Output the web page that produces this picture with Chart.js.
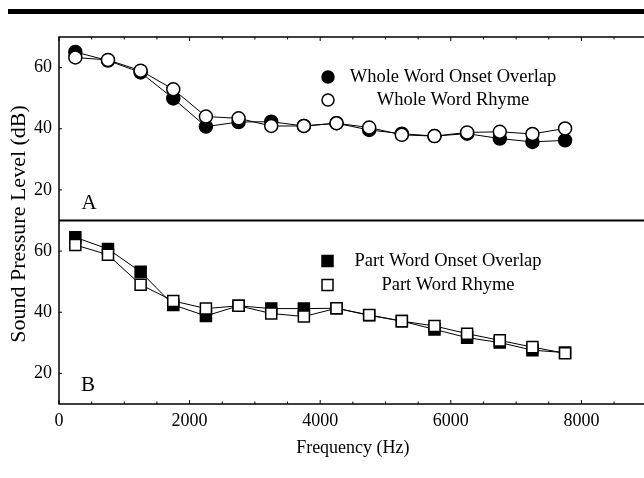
<!DOCTYPE html>
<html>
<head>
<meta charset="utf-8">
<script src="https://cdn.jsdelivr.net/npm/chart.js@4.4.1/dist/chart.umd.min.js"></script>
<style>
  html, body { margin: 0; padding: 0; background: #fff; overflow: hidden; }
  #wrap { position: relative; width: 644px; height: 478px; overflow: hidden; }
  #rule { position: absolute; left: 8px; top: 9px; width: 640px; height: 5px; background: #000; }
  #box { position: absolute; left: 0; top: 0; width: 656px; height: 478px; }
</style>
</head>
<body>
<div id="wrap">
  <div id="rule"></div>
  <div id="box"><canvas id="chart" width="656" height="478"></canvas></div>
</div>
<script>
// fréquences centrales des bandes (Hz)
const freqs = [250, 750, 1250, 1750, 2250, 2750, 3250, 3750, 4250, 4750, 5250, 5750, 6250, 6750, 7250, 7750];

// panneau A
const wholeOnset = [65.1, 62.3, 58.4, 49.9, 40.7, 42.2, 42.3, 40.9, 41.8, 39.6, 38.4, 37.6, 38.4, 36.8, 35.7, 36.2];
const wholeRhyme = [63.3, 62.5, 59.0, 52.9, 44.0, 43.4, 40.9, 40.9, 41.8, 40.4, 38.0, 37.6, 38.8, 39.0, 38.3, 40.1];

// panneau B
const partOnset = [64.5, 60.7, 53.2, 42.4, 38.8, 42.1, 41.2, 41.2, 41.3, 39.0, 37.1, 34.4, 31.7, 30.1, 27.6, 26.8];
const partRhyme = [62.0, 58.8, 49.0, 43.7, 41.2, 42.1, 39.6, 38.6, 41.3, 39.1, 37.1, 35.5, 33.0, 30.8, 28.6, 26.6];

const xTicks = [0, 2000, 4000, 6000, 8000];
const yTicks = [20, 40, 60];
const legendA = ['Whole Word Onset Overlap', 'Whole Word Rhyme'];
const legendB = ['Part Word Onset Overlap', 'Part Word Rhyme'];

const serif = '"Liberation Serif", "Times New Roman", serif';

function pts(arr) {
    return freqs.map((f, i) => ({ x: f, y: arr[i] }));
}

function serie(label, arr, axe, plein, style) {
    return {
        label: label,
        data: pts(arr),
        yAxisID: axe,
        borderColor: '#000',
        borderWidth: 1,
        pointStyle: style,
        pointRadius: style === 'rect' ? 7.8 : 6.5,
        pointBackgroundColor: plein ? '#000' : '#fff',
        pointBorderColor: '#000',
        pointBorderWidth: 1.5,
        order: plein ? 1 : 0,
        tension: 0
    };
}

function echelleY() {
    return {
        type: 'linear',
        min: 10,
        max: 70,
        position: 'left',
        stack: 'panneaux',
        stackWeight: 1,
        afterFit: s => { s.width = 59; },
        afterBuildTicks: s => { s.ticks = yTicks.map(v => ({ value: v })); },
        grid: { display: false, drawTicks: false },
        border: { display: false },
        ticks: { color: '#000', font: { family: serif, size: 18 }, padding: 7, callback: v => String(v) }
    };
}

// cadre, séparation et petites graduations vers l'intérieur
const cadre = {
    id: 'cadre',
    beforeDatasetsDraw(chart) {
        const { ctx, chartArea: a, scales } = chart;
        ctx.save();
        ctx.strokeStyle = '#000';
        ctx.lineWidth = 1.5;
        ctx.strokeRect(a.left, a.top, a.right - a.left, a.bottom - a.top);
        ctx.lineWidth = 2;
        ctx.beginPath();
        ctx.moveTo(a.left, scales.yA.bottom);
        ctx.lineTo(a.right, scales.yA.bottom);
        ctx.stroke();
        ctx.lineWidth = 1;
        ctx.beginPath();
        for (let f = 0; f <= 9000; f += 500) {
            const px = scales.x.getPixelForValue(f);
            const len = f % 2000 === 0 ? 4 : 2.5;
            ctx.moveTo(px, a.top);
            ctx.lineTo(px, a.top + len);
            ctx.moveTo(px, a.bottom);
            ctx.lineTo(px, a.bottom - len);
        }
        ['yA', 'yB'].forEach(id => {
            yTicks.forEach(v => {
                const py = scales[id].getPixelForValue(v);
                ctx.moveTo(a.left, py);
                ctx.lineTo(a.left + 3, py);
            });
        });
        ctx.stroke();
        ctx.restore();
    },
    afterDraw(chart) {
        const { ctx, chartArea: a } = chart;
        ctx.save();
        ctx.fillStyle = '#000';
        ctx.strokeStyle = '#000';
        ctx.textBaseline = 'middle';

        // titre de l'axe vertical
        ctx.save();
        ctx.font = '22px ' + serif;
        ctx.translate(19, 224);
        ctx.rotate(-Math.PI / 2);
        ctx.textAlign = 'center';
        ctx.fillText('Sound Pressure Level (dB)', 0, 0);
        ctx.restore();

        // légendes
        ctx.font = '18.5px ' + serif;
        ctx.textAlign = 'center';
        ctx.lineWidth = 1.5;
        const rangs = [
            { y: 77, txt: legendA[0], cx: 453, m: 'circle', plein: true },
            { y: 100, txt: legendA[1], cx: 453, m: 'circle', plein: false },
            { y: 261, txt: legendB[0], cx: 448, m: 'rect', plein: true },
            { y: 285, txt: legendB[1], cx: 448, m: 'rect', plein: false }
        ];
        rangs.forEach(r => {
            ctx.beginPath();
            if (r.m === 'circle') ctx.arc(328, r.y, 6, 0, Math.PI * 2);
            else ctx.rect(322, r.y - 5.5, 11, 11);
            ctx.fillStyle = r.plein ? '#000' : '#fff';
            ctx.fill();
            ctx.stroke();
            ctx.fillStyle = '#000';
            ctx.fillText(r.txt, r.cx, r.y);
        });

        // lettres des panneaux
        ctx.font = '21px ' + serif;
        ctx.fillText('A', 89, 203);
        ctx.fillText('B', 88, 385);
        ctx.restore();
    }
};

new Chart(document.getElementById('chart').getContext('2d'), {
    type: 'line',
    data: {
        datasets: [
            serie('Whole Word Onset Overlap', wholeOnset, 'yA', true, 'circle'),
            serie('Whole Word Rhyme', wholeRhyme, 'yA', false, 'circle'),
            serie('Part Word Onset Overlap', partOnset, 'yB', true, 'rect'),
            serie('Part Word Rhyme', partRhyme, 'yB', false, 'rect')
        ]
    },
    options: {
        responsive: false,
        animation: false,
        layout: { padding: { top: 37, left: 0, right: 7, bottom: 19 } },
        plugins: { legend: { display: false }, tooltip: { enabled: false } },
        scales: {
            x: {
                type: 'linear',
                min: 0,
                max: 9000,
                position: 'bottom',
                afterBuildTicks: s => { s.ticks = xTicks.map(v => ({ value: v })); },
                afterFit: s => { s.height = 55; },
                grid: { display: false, drawTicks: false },
                border: { display: false },
                ticks: { color: '#000', font: { family: serif, size: 18 }, padding: 6, maxRotation: 0, autoSkip: false, callback: v => String(v) },
                title: { display: true, text: 'Frequency (Hz)', color: '#000', font: { family: serif, size: 18 }, padding: { top: 0, bottom: 0 } }
            },
            yB: echelleY(),
            yA: echelleY()
        }
    },
    plugins: [cadre]
});
</script>
</body>
</html>
